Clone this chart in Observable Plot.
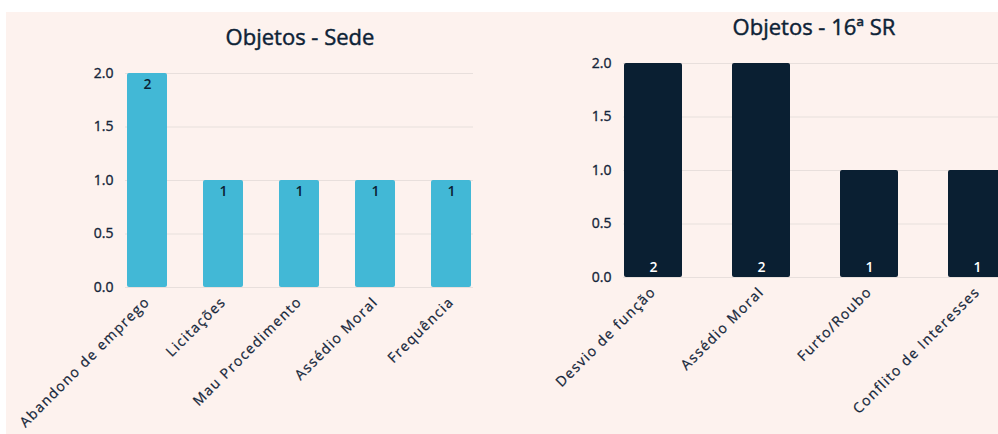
<!DOCTYPE html>
<html><head><meta charset="utf-8">
<script src="https://cdn.jsdelivr.net/npm/d3@7"></script>
<script src="https://cdn.jsdelivr.net/npm/@observablehq/plot@0.6"></script>
<style>
html,body{margin:0;padding:0;width:998px;height:434px;overflow:hidden;background:#ffffff;}
#bg{position:absolute;left:6px;top:12px;width:992px;height:422px;background:#fdf2ee;}
.chart{position:absolute;top:0;}
.chart svg{max-width:none !important;}
.title{position:absolute;font-family:"Open Sans";font-weight:400;-webkit-text-stroke:0.45px #0d2236;font-size:22px;line-height:22px;color:#0d2236;white-space:nowrap;transform:translateX(-50%);}
</style></head><body>
<div id="bg"></div>
<div id="c1" class="chart" style="left:0px;width:490px"></div>
<div id="c2" class="chart" style="left:500px;width:520px"></div>
<div id="t1" class="title" style="left:300px;top:25px"></div>
<div id="t2" class="title" style="left:814px;top:15px"></div>
<script>
const sedeTitle = "Objetos - Sede";
const sedeCategories = ["Abandono de emprego", "Licitações", "Mau Procedimento", "Assédio Moral", "Frequência"];
const sedeValues = [2, 1, 1, 1, 1];

const srTitle = "Objetos - 16ª SR";
const srCategories = ["Desvio de função", "Assédio Moral", "Furto/Roubo", "Conflito de Interesses"];
const srValues = [2, 2, 1, 1];

const yTicks = [0, 0.5, 1, 1.5, 2];

const textColor = "#15263a";
const gridColor = "#e8dfdc";

function makeChart(cats, vals, opts) {
  const data = cats.map((c, i) => ({cat: c, value: vals[i]}));
  const svg = Plot.plot({
    width: opts.width,
    height: 434,
    marginLeft: opts.marginLeft,
    marginRight: opts.marginRight,
    marginTop: opts.marginTop,
    marginBottom: opts.marginBottom,
    style: {background: "transparent", fontFamily: "Open Sans", fontSize: "14px", color: textColor, overflow: "visible"},
    x: {domain: cats, paddingInner: opts.paddingInner, paddingOuter: 0, label: null},
    y: {domain: [0, 2], label: null},
    marks: [
      Plot.gridY(yTicks, {stroke: gridColor, strokeOpacity: 1, strokeWidth: 1.2}),
      Plot.barY(data, {x: "cat", y: "value", fill: opts.barColor, rx: 2}),
      Plot.text(data, {x: "cat", y: opts.labelAtTop ? "value" : () => 0, text: d => String(d.value),
        dy: opts.labelDy, fill: opts.labelColor, fontWeight: 600, fontSize: 14}),
      Plot.axisY(yTicks, {tickSize: 0, tickPadding: 12, tickFormat: d3.format(".1f"), fill: textColor, fontSize: 14}),
      Plot.axisX({tickSize: 0, tickPadding: 12, dx: 0, tickRotate: -45, fill: textColor, fontSize: 14, label: null})
    ]
  });
  svg.querySelectorAll('[aria-label="x-axis tick label"] text').forEach(t => {
    t.setAttribute("letter-spacing", "1.4");
    t.setAttribute("stroke", textColor);
    t.setAttribute("stroke-width", "0.25");
  });
  svg.querySelectorAll('[aria-label="y-axis tick label"] text').forEach(t => {
    t.setAttribute("stroke", textColor);
    t.setAttribute("stroke-width", "0.35");
  });
  return svg;
}

document.getElementById("c1").appendChild(makeChart(sedeCategories, sedeValues, {
  width: 490, marginLeft: 125, marginRight: 17, marginTop: 73, marginBottom: 147,
  paddingInner: 0.47, barColor: "#42b8d6", labelColor: "#0b1f33", labelAtTop: true, labelDy: 11
}));
document.getElementById("c2").appendChild(makeChart(srCategories, srValues, {
  width: 520, marginLeft: 123, marginRight: 14, marginTop: 63, marginBottom: 157,
  paddingInner: 0.465, barColor: "#0a1f32", labelColor: "#ffffff", labelAtTop: false, labelDy: -9.5
}));
document.getElementById("t1").textContent = sedeTitle;
document.getElementById("t2").textContent = srTitle;
</script>
</body></html>
